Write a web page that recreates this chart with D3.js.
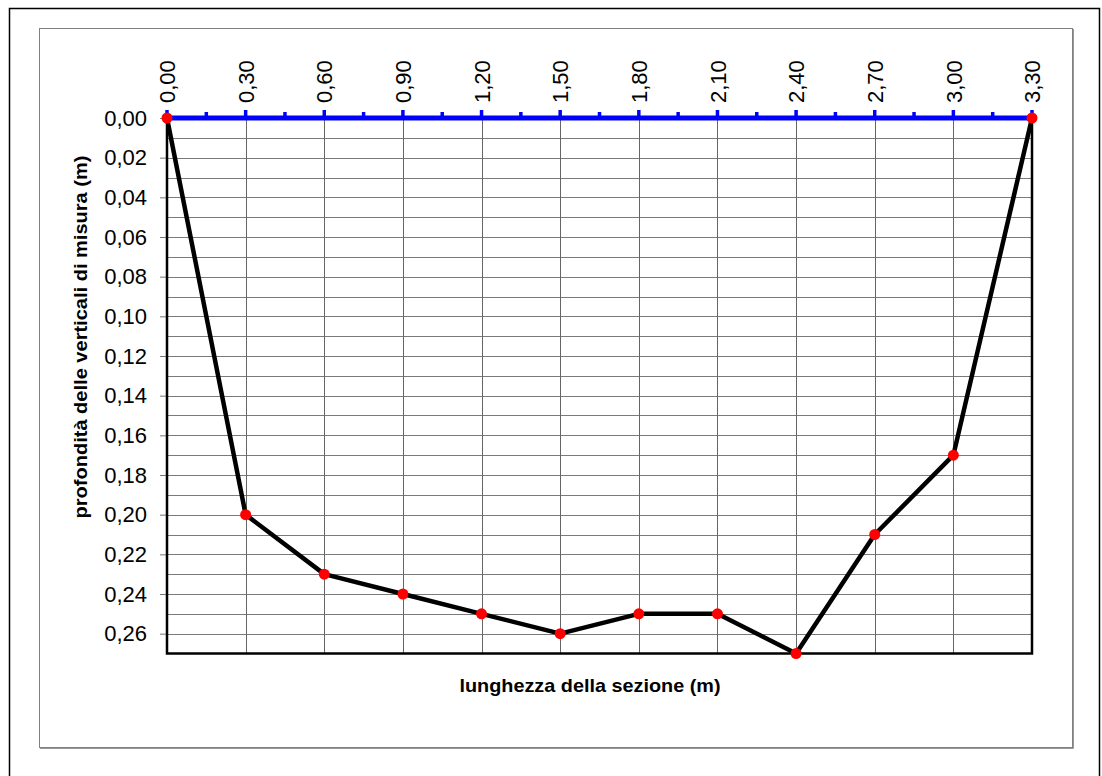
<!DOCTYPE html>
<html>
<head>
<meta charset="utf-8">
<script src="https://cdn.jsdelivr.net/npm/d3@7/dist/d3.min.js"></script>
<style>
  html, body { margin: 0; padding: 0; background: #fff; }
  svg { display: block; }
  text { font-family: "Liberation Sans", Arial, sans-serif; fill: #000; }
</style>
</head>
<body>
<svg id="chart" width="1102" height="776"></svg>
<script>
// Cross-section survey: distance along the section (m) and depth of each measuring vertical (m)
const distances = [0.00, 0.30, 0.60, 0.90, 1.20, 1.50, 1.80, 2.10, 2.40, 2.70, 3.00, 3.30];
const depths    = [0.00, 0.20, 0.23, 0.24, 0.25, 0.26, 0.25, 0.25, 0.27, 0.21, 0.17, 0.00];

// Axis ticks
const xTickLabels = ["0,00", "0,30", "0,60", "0,90", "1,20", "1,50", "1,80", "2,10", "2,40", "2,70", "3,00", "3,30"];
const xMinorTicks = [0.15, 0.45, 0.75, 1.05, 1.35, 1.65, 1.95, 2.25, 2.55, 2.85, 3.15];
const yTickLabels = ["0,00", "0,02", "0,04", "0,06", "0,08", "0,10", "0,12", "0,14", "0,16", "0,18", "0,20", "0,22", "0,24", "0,26"];
const yGridValues = [0.01, 0.02, 0.03, 0.04, 0.05, 0.06, 0.07, 0.08, 0.09, 0.10, 0.11, 0.12, 0.13,
                     0.14, 0.15, 0.16, 0.17, 0.18, 0.19, 0.20, 0.21, 0.22, 0.23, 0.24, 0.25, 0.26];

const xTitle = "lunghezza della sezione (m)";
const yTitle = "profondità delle verticali di misura (m)";

const svg = d3.select("#chart");

// Frames
svg.append("rect").attr("x", 9.5).attr("y", 8.5).attr("width", 1090).attr("height", 800)
  .attr("fill", "#fff").attr("stroke", "#000").attr("stroke-width", 1.5);
svg.append("rect").attr("x", 39.5).attr("y", 28.5).attr("width", 1033).attr("height", 719)
  .attr("fill", "#fff").attr("stroke", "#808080").attr("stroke-width", 1);
svg.append("path").attr("d", "M1073.5,29V748.5H40").attr("fill", "none")
  .attr("stroke", "#9a9a9a").attr("stroke-width", 1);

const pLeft = 167, pRight = 1032, pTop = 118, pBottom = 653.5;
const x = d3.scaleLinear().domain([0, 3.3]).range([pLeft, pRight]);
const y = d3.scaleLinear().domain([0, 0.27]).range([pTop, pBottom]);
const yMajor = d3.range(yTickLabels.length).map(i => i * 0.02);

// Grid
const grid = svg.append("g");
grid.selectAll("line.h").data(yGridValues).join("line").attr("class", "h")
  .attr("x1", pLeft).attr("x2", pRight)
  .attr("y1", d => Math.round(y(d)) + 0.5).attr("y2", d => Math.round(y(d)) + 0.5)
  .attr("stroke", "#7a7a7a").attr("stroke-width", 1);
grid.selectAll("line.v").data(distances.slice(1, -1)).join("line").attr("class", "v")
  .attr("y1", pTop).attr("y2", pBottom)
  .attr("x1", d => Math.round(x(d)) + 0.5).attr("x2", d => Math.round(x(d)) + 0.5)
  .attr("stroke", "#666").attr("stroke-width", 1);

// Left axis: outward major ticks and labels
const yAxis = d3.axisLeft(y).tickValues(yMajor).tickSize(7).tickPadding(13)
  .tickFormat((d, i) => yTickLabels[i]);
const gy = svg.append("g").attr("transform", `translate(${pLeft},0)`).call(yAxis);
gy.select(".domain").remove();
gy.selectAll(".tick line").attr("stroke", "#777");
gy.selectAll(".tick text").attr("font-size", "22px").attr("font-family", "Liberation Sans, Arial, sans-serif");

// Plot border (left, bottom, right)
svg.append("path")
  .attr("d", `M${pLeft},${pTop}V${pBottom}H${pRight}V${pTop}`)
  .attr("fill", "none").attr("stroke", "#000").attr("stroke-width", 2.5);

// Top axis: water surface line with blue ticks, rotated labels
const xAxis = d3.axisTop(x).tickValues(distances).tickSize(0).tickPadding(0)
  .tickFormat((d, i) => xTickLabels[i]);
const gx = svg.append("g").attr("transform", `translate(0,${pTop})`).call(xAxis);
gx.select(".domain").remove();
gx.selectAll(".tick text")
  .attr("font-size", "22px").attr("font-family", "Liberation Sans, Arial, sans-serif")
  .attr("text-anchor", "start")
  .attr("transform", "translate(0,-15) rotate(-90)")
  .attr("x", 0).attr("y", 0).attr("dy", "0.35em");

const tickG = svg.append("g");
tickG.selectAll("line.maj").data(distances).join("line")
  .attr("x1", d => x(d)).attr("x2", d => x(d))
  .attr("y1", pTop - 8).attr("y2", pTop)
  .attr("stroke", "#0000ff").attr("stroke-width", 3.5);
tickG.selectAll("line.min").data(xMinorTicks).join("line")
  .attr("x1", d => x(d)).attr("x2", d => x(d))
  .attr("y1", pTop - 6).attr("y2", pTop)
  .attr("stroke", "#0000ff").attr("stroke-width", 3.5);
svg.append("line").attr("x1", pLeft).attr("x2", pRight).attr("y1", pTop).attr("y2", pTop)
  .attr("stroke", "#0000ff").attr("stroke-width", 5);

// Section profile
const line = d3.line().x((d, i) => x(distances[i])).y(d => y(d));
svg.append("path").datum(depths).attr("d", line)
  .attr("fill", "none").attr("stroke", "#000").attr("stroke-width", 4.5)
  .attr("stroke-linejoin", "round");
svg.append("g").selectAll("circle").data(depths).join("circle")
  .attr("cx", (d, i) => x(distances[i])).attr("cy", d => y(d)).attr("r", 5.5)
  .attr("fill", "#ff0000");

// Axis titles
svg.append("text").attr("x", 590).attr("y", 692).attr("text-anchor", "middle")
  .attr("font-size", "19px").attr("font-weight", "bold")
  .attr("textLength", 261).attr("lengthAdjust", "spacingAndGlyphs")
  .text(xTitle);
svg.append("text").attr("transform", "translate(87,337) rotate(-90)").attr("text-anchor", "middle")
  .attr("font-size", "18px").attr("font-weight", "bold")
  .attr("textLength", 363).attr("lengthAdjust", "spacingAndGlyphs")
  .text(yTitle);
</script>
</body>
</html>
